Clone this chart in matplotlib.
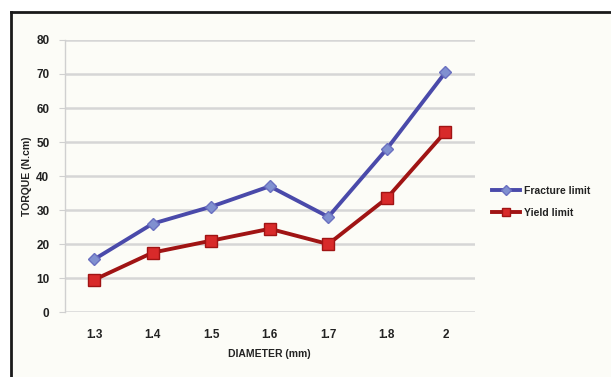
import matplotlib
matplotlib.use("Agg")
import matplotlib.pyplot as plt
from matplotlib.lines import Line2D
from matplotlib.patches import Rectangle

categories = ["1.3", "1.4", "1.5", "1.6", "1.7", "1.8", "2"]
fracture = [15.5, 26, 31, 37, 28, 48, 70.5]
yield_lim = [9.5, 17.5, 21, 24.5, 20, 33.5, 53]
yticks = [0, 10, 20, 30, 40, 50, 60, 70, 80]

plt.rcParams['font.family'] = ['Liberation Sans', 'DejaVu Sans']

W, H = 611, 377
fig = plt.figure(figsize=(W / 100, H / 100), dpi=100)
fig.patch.set_facecolor('white')
# cream panel inside frame
fig.add_artist(Rectangle((11 / W, 0), 1, (H - 12) / H, transform=fig.transFigure,
                         facecolor='#fcfcf7', edgecolor='none', zorder=0))
ax = fig.add_axes([0.106, 0.172, 0.671, 0.722])
ax.set_facecolor('#fcfcf7')

x = list(range(len(categories)))
ax.plot(x, fracture, color='#4a4aaa', lw=2.8, marker='D', ms=6.5,
        mfc='#8090d0', mec='#6a70c0', mew=1, label='Fracture limit', zorder=3)
ax.plot(x, yield_lim, color='#a01414', lw=2.8, marker='s', ms=8,
        mfc='#d82a2a', mec='#a01414', mew=1, label='Yield limit', zorder=3)

ax.set_xlim(-0.5, 6.5)
ax.set_ylim(0, 80)
ax.set_yticks(yticks)
ax.set_xticks(x)
ax.set_xticklabels(categories)
ax.grid(axis='y', color='#d6d6d6', lw=1.8)
ax.set_axisbelow(True)
for s in ['top', 'right', 'bottom']:
    ax.spines[s].set_visible(False)
ax.spines['left'].set_color('#d0d0d0')
ax.spines['left'].set_linewidth(1)
ax.tick_params(axis='y', length=4, color='#d0d0d0', labelsize=8.5, pad=7)
ax.tick_params(axis='x', length=0, labelsize=8.5, pad=12)
for lbl in ax.get_xticklabels() + ax.get_yticklabels():
    lbl.set_fontweight('bold')
    lbl.set_color('#222222')

ax.set_xlabel('DIAMETER (mm)', fontsize=7.5, fontweight='bold', color='#222222', labelpad=6)
ax.set_ylabel('TORQUE (N.cm)', fontsize=7.5, fontweight='bold', color='#222222', labelpad=3)

leg = ax.legend(loc='center left', bbox_to_anchor=(1.02, 0.405), frameon=False,
                handlelength=2.7, labelspacing=1.15, handletextpad=0.3,
                markerscale=0.75, prop={'weight': 'bold', 'size': 7.5})
for t in leg.get_texts():
    t.set_color('#222222')

# frame: top and left lines only
fig.add_artist(Line2D([11 / W, 1], [1 - 12 / H, 1 - 12 / H], transform=fig.transFigure,
                      color='#1a1a1a', lw=2))
fig.add_artist(Line2D([11 / W, 11 / W], [0, 1 - 12 / H], transform=fig.transFigure,
                      color='#1a1a1a', lw=2))

fig.savefig('out.png', dpi=100, facecolor=fig.get_facecolor())
